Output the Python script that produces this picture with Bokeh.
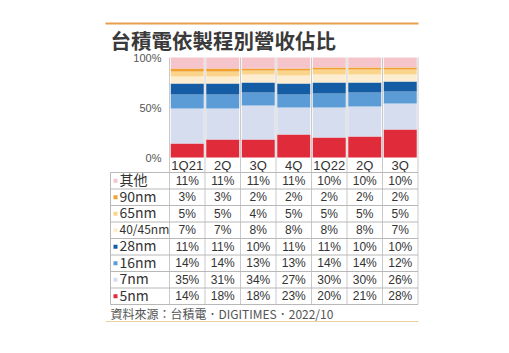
from bokeh.plotting import figure
from bokeh.models import Range1d, ColumnDataSource
from bokeh.core.properties import value
from bokeh.embed import file_html
from bokeh.resources import INLINE

# ---- data ----
quarters = ["1Q21", "2Q", "3Q", "4Q", "1Q22", "2Q", "3Q"]
nodes = ["其他", "90nm", "65nm", "40/45nm", "28nm", "16nm", "7nm", "5nm"]
other = [11, 11, 11, 11, 10, 10, 10]
n90 = [3, 3, 2, 2, 2, 2, 2]
n65 = [5, 5, 4, 5, 5, 5, 5]
n40 = [7, 7, 8, 8, 8, 8, 7]
n28 = [11, 11, 10, 11, 11, 10, 10]
n16 = [14, 14, 13, 13, 14, 14, 12]
n7 = [35, 31, 34, 27, 30, 30, 26]
n5 = [14, 18, 18, 23, 20, 21, 28]
y_ticks = [0, 50, 100]
title = "台積電依製程別營收佔比"
source_note = "資料來源：台積電．DIGITIMES．2022/10"

series = {"其他": other, "90nm": n90, "65nm": n65, "40/45nm": n40,
          "28nm": n28, "16nm": n16, "7nm": n7, "5nm": n5}
colors = {"其他": "#f6c4cb", "90nm": "#efa02f", "65nm": "#fbd48c",
          "40/45nm": "#fcedd0", "28nm": "#145ca3", "16nm": "#5b9bd6",
          "7nm": "#d5ddef", "5nm": "#e02b3b"}

W, H = 509, 353
X0, CW = 169.0, 35.5      # pixel of column 0 left edge, column width
Y0 = 157.0                # pixel of 0%  (1 px per %)

def px2x(px):
    return (px - X0) / CW

def px2y(py):
    return Y0 - py

p = figure(width=W, height=H, output_backend="svg", toolbar_location=None,
           x_range=Range1d(px2x(0), px2x(W)), y_range=Range1d(px2y(H), px2y(0)),
           x_axis_location=None, y_axis_location=None, min_border=0)
p.outline_line_color = None
p.xgrid.visible = False
p.ygrid.visible = False
p.background_fill_color = "white"
p.border_fill_color = "white"

n = len(quarters)
xs = [i + 0.5 for i in range(n)]

# gridlines of the column frame
ROW_H = 16.5
HEAD_H = 15.0
table_bottom = -(HEAD_H + ROW_H * len(nodes))
p.segment(x0=list(range(n + 1)), y0=[table_bottom] * (n + 1),
          x1=list(range(n + 1)), y1=[100] * (n + 1),
          line_color="#c9c9c9", line_width=1)

# stacked bars
stack_order = ["5nm", "7nm", "16nm", "28nm", "40/45nm", "65nm", "90nm", "其他"]
data = {"x": xs}
data.update({k: series[k] for k in stack_order})
src = ColumnDataSource(data)
p.vbar_stack(stack_order, x="x", width=33 / CW, source=src,
             color=[colors[k] for k in stack_order], line_color=None)

# y tick labels
p.text(x=[px2x(161)] * len(y_ticks), y=y_ticks, text=[f"{t}%" for t in y_ticks],
       text_align="right", text_baseline="middle", text_font_size="11px",
       text_color="#555555", text_font=value("Liberation Sans"))

# header row
p.text(x=xs, y=[-HEAD_H / 2 - 0.5] * n, text=quarters, text_align="center",
       text_baseline="middle", text_font_size="13px", text_color="#333333",
       text_font=value("Liberation Sans"))

# table horizontal lines
ys_lines = [-(HEAD_H + ROW_H * k) for k in range(len(nodes) + 1)]
p.segment(x0=[px2x(110)] * len(ys_lines), y0=ys_lines,
          x1=[n] * len(ys_lines), y1=ys_lines, line_color="#b8b8b8", line_width=1)
p.segment(x0=[px2x(110)], y0=[ys_lines[0]], x1=[px2x(110)], y1=[ys_lines[-1]],
          line_color="#b8b8b8", line_width=1)

# table rows
for k, name in enumerate(nodes):
    yc = -(HEAD_H + ROW_H * k + ROW_H / 2)
    vals = series[name]
    p.text(x=xs, y=[yc] * n, text=[f"{v}%" for v in vals], text_align="center",
           text_baseline="middle", text_font_size="12px", text_color="#333333",
           text_font=value("Liberation Sans"))
    p.rect(x=[px2x(115)], y=[yc], width=4 / CW, height=4,
           fill_color=colors[name], line_color=None)
    fs = "12px" if name == "40/45nm" else "14px"
    p.text(x=[px2x(119)], y=[yc + 1.5], text=[name], text_align="left",
           text_baseline="middle", text_font_size=fs, text_color="#333333",
           text_font=value("Noto Sans CJK TC"))

# title and decorative lines
p.segment(x0=[px2x(105)], y0=[px2y(23)], x1=[px2x(418)], y1=[px2y(23)],
          line_color="#e8a04e", line_width=2)
p.text(x=[px2x(110)], y=[px2y(39)], text=[title], text_align="left",
       text_baseline="middle", text_font_size="20.5px", text_color="#3a3a3a",
       text_font_style="bold", text_font=value("Noto Sans CJK TC"))

p.text(x=[px2x(110)], y=[px2y(313)], text=[source_note], text_align="left",
       text_baseline="middle", text_font_size="12px", text_color="#555555",
       text_font=value("Noto Sans CJK TC"))
p.segment(x0=[px2x(105)], y0=[px2y(321)], x1=[px2x(418)], y1=[px2y(321)],
          line_color="#ecd2a0", line_width=1)

open("out.html", "w").write(file_html(p, INLINE))
